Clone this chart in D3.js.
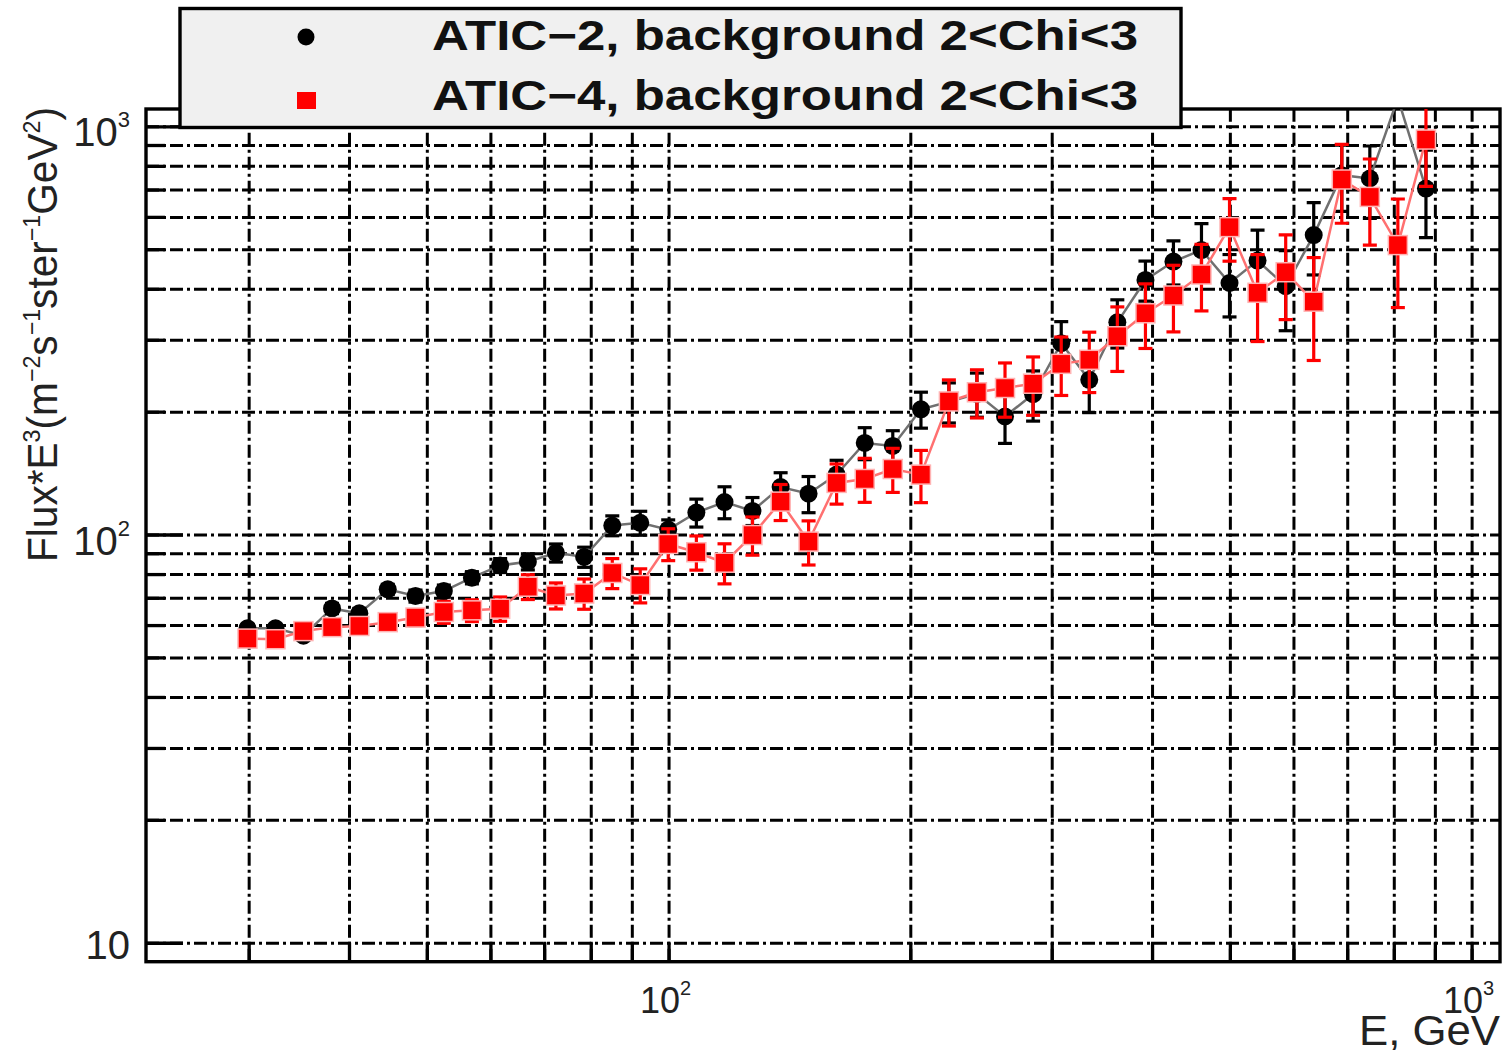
<!DOCTYPE html>
<html>
<head>
<meta charset="utf-8">
<script src="https://cdn.jsdelivr.net/npm/d3@7/dist/d3.min.js"></script>
<style>
  body { margin: 0; background: #fff; }
  text { font-family: "Liberation Sans", Arial, Helvetica, sans-serif; }
</style>
</head>
<body>
<div id="chart"></div>
<script>
// energies of the bins, GeV
var energy = [29.9, 32.4, 35.1, 38.1, 41.2, 44.7, 48.4, 52.5, 56.9, 61.7, 66.8, 72.4, 78.5, 85.1,
  92.2, 99.9, 108.3, 117.4, 127.2, 137.9, 149.4, 161.9, 175.5, 190.2, 206.2, 223.4, 242.1, 262.4,
  284.4, 308.3, 334.1, 362.1, 392.5, 425.3, 460.9, 499.5, 541.3, 586.8, 635.9, 689.2, 746.9, 809.4, 877.3];

// ATIC-2 (black)
var atic2 = [58.9, 58.9, 56.5, 65.9, 64.1, 73.4, 70.7, 72.7, 78.4, 84.0, 85.8, 90.2, 88.1, 105.2,
  106.8, 102.8, 113.2, 120.1, 114.2, 130.7, 125.9, 140.2, 167.6, 164.8, 202.7, 211.4, 221.2, 194.6,
  220.6, 294.2, 239.3, 331.1, 420.3, 466.4, 497.7, 413.2, 469.0, 405.7, 541.4, 759, 745, 1171, 704];
var atic2Err = [1.3, 1.3, 1.3, 1.9, 1.8, 2.1, 2.4, 2.5, 2.7, 3.3, 3.9, 4.6, 5.0, 5.9,
  7.2, 5.8, 8.9, 10.8, 9.0, 11.0, 12.8, 11.8, 15.1, 14.8, 20.5, 23.8, 27.4, 27.4,
  31.0, 38.1, 40.4, 44.7, 47.3, 57.8, 80, 72, 88, 90, 109, 140, 150, 60, 170];

// ATIC-4 (red)
var atic4 = [55.6, 55.4, 58.0, 59.3, 59.7, 61.0, 62.6, 64.6, 65.2, 65.8, 74.5, 70.9, 71.7, 80.5,
  75.2, 94.8, 90.5, 85.3, 99.7, 120.4, 96.1, 133.8, 136.8, 144.7, 140.2, 211.8, 223.1, 228.5,
  234.1, 261.9, 267.9, 306.0, 348.4, 385.1, 433.5, 566.3, 391.0, 439.1, 371.9, 740.8, 671.6, 511.7, 927.9];
var atic4Err = [1.6, 1.6, 2.0, 2.0, 2.4, 2.4, 2.8, 4.0, 4.0, 4.5, 5.2, 5.2, 6.1, 6.8,
  7.2, 8.5, 8.7, 9.6, 10.7, 12.2, 11.9, 15.1, 16.9, 17.9, 20.5, 27.4, 30.1, 34.7,
  38.2, 42.8, 45.2, 55.1, 62.8, 71.5, 80.5, 99, 94, 103, 105, 162, 160, 152, 215];

var legendLabels = ["ATIC\u22122, background 2<Chi<3", "ATIC\u22124, background 2<Chi<3"];

var xGrid = [30, 40, 50, 60, 70, 80, 90, 100, 200, 300, 400, 500, 600, 700, 800, 900, 1000];
var yGrid = [10, 20, 30, 40, 50, 60, 70, 80, 90, 100, 200, 300, 400, 500, 600, 700, 800, 900, 1000];
var xTickLabels = [100, 1000];
var yTickLabels = [10, 100, 1000];

var width = 1505,
    height = 1050;

var frameL = 146, frameR = 1500, frameT = 109, frameB = 961.7;

var x = d3.scaleLog()
    .domain([22.35, 1084.8])
    .range([frameL, frameR]);

var y = d3.scaleLog()
    .domain([8.985, 1102.6])
    .range([frameB, frameT]);

var svg = d3.select("#chart").append("svg")
    .attr("width", width)
    .attr("height", height);

svg.append("defs").append("clipPath")
    .attr("id", "plotclip")
  .append("rect")
    .attr("x", frameL).attr("y", frameT)
    .attr("width", frameR - frameL).attr("height", frameB - frameT);

var dash = "13,4,3,4";

// grid lines
var gx = svg.append("g")
    .attr("transform", "translate(0," + frameB + ")")
    .call(d3.axisBottom(x).tickValues(xGrid).tickSize(-(frameB - frameT)).tickFormat(""));
gx.select(".domain").remove();
gx.selectAll("line").attr("stroke", "#000").attr("stroke-width", 3).attr("stroke-dasharray", dash);

var gy = svg.append("g")
    .attr("transform", "translate(" + frameL + ",0)")
    .call(d3.axisRight(y).tickValues(yGrid).tickSize(frameR - frameL).tickFormat(""));
gy.select(".domain").remove();
gy.selectAll("line").attr("stroke", "#000").attr("stroke-width", 3).attr("stroke-dasharray", dash);

// axis ticks, pointing into the frame
var tx = svg.append("g")
    .attr("transform", "translate(0," + frameB + ")")
    .call(d3.axisTop(x).tickValues(xGrid).tickSize(19).tickFormat(""));
tx.select(".domain").remove();
tx.selectAll("line").attr("stroke", "#000").attr("stroke-width", 3.3);

var ty = svg.append("g")
    .attr("transform", "translate(" + frameL + ",0)")
    .call(d3.axisRight(y).tickValues(yGrid).tickSize(19).tickFormat(""));
ty.select(".domain").remove();
ty.selectAll("line")
    .attr("stroke", "#000").attr("stroke-width", 3.3)
    .attr("x2", function(d) { return yTickLabels.indexOf(d) >= 0 ? 37 : 19; });

// frame
svg.append("rect")
    .attr("x", frameL).attr("y", frameT)
    .attr("width", frameR - frameL).attr("height", frameB - frameT)
    .attr("fill", "none").attr("stroke", "#000").attr("stroke-width", 3.4);

// tick labels
function powLabel(sel, v, supSize, supDy) {
  var e = Math.round(Math.log10(v));
  if (e === 1) {
    sel.text("10");
    return;
  }
  sel.append("tspan").text("10");
  sel.append("tspan").attr("font-size", supSize).attr("dy", supDy).text(e);
}

svg.append("g").selectAll("text")
  .data(xTickLabels)
  .enter()
  .append("text")
    .attr("x", function(d) { return x(d) - 3; })
    .attr("y", 1013)
    .attr("text-anchor", "middle")
    .attr("font-size", 36)
    .attr("fill", "#222")
    .each(function(d) { powLabel(d3.select(this), d, 20, -18); });

svg.append("g").selectAll("text")
  .data(yTickLabels)
  .enter()
  .append("text")
    .attr("x", 130)
    .attr("y", function(d) { return y(d) + (d === 10 ? 16 : 20); })
    .attr("text-anchor", "end")
    .attr("font-size", 40)
    .attr("fill", "#222")
    .each(function(d) { powLabel(d3.select(this), d, 22, -19); });

// axis titles
svg.append("text")
    .attr("x", 1500)
    .attr("y", 1045)
    .attr("text-anchor", "end")
    .attr("font-size", 42)
    .attr("fill", "#222")
    .attr("textLength", 141)
    .attr("lengthAdjust", "spacingAndGlyphs")
    .text("E, GeV");

var yt = svg.append("text")
    .attr("transform", "translate(57,562) rotate(-90)")
    .attr("font-size", 42)
    .attr("fill", "#222")
    .attr("textLength", 455)
    .attr("lengthAdjust", "spacingAndGlyphs");
[["Flux*E", 0], ["3", 1], ["(m", 0], ["\u22122", 1], ["s", 0], ["\u22121", 1],
 ["ster", 0], ["\u22121", 1], ["GeV", 0], ["2", 1], [")", 0]].forEach(function(p, i, arr) {
  var prevSup = i > 0 && arr[i - 1][1];
  var dy = p[1] && !prevSup ? -17 : (!p[1] && prevSup ? 17 : 0);
  yt.append("tspan")
    .attr("font-size", p[1] ? 24 : 42)
    .attr("dy", dy)
    .text(p[0]);
});

// data
var plot = svg.append("g").attr("clip-path", "url(#plotclip)");

function drawSeries(vals, errs, color, lineColor, square) {
  var pts = energy.map(function(e, i) { return { e: e, v: vals[i], err: errs[i] }; });

  var line = d3.line()
    .x(function(d) { return x(d.e); })
    .y(function(d) { return y(d.v); });

  plot.append("path")
    .datum(pts)
    .attr("d", line)
    .attr("fill", "none")
    .attr("stroke", lineColor)
    .attr("stroke-width", 2.5);

  var eb = plot.append("g").selectAll("g")
    .data(pts)
    .enter()
    .append("g")
    .attr("stroke", color)
    .attr("stroke-width", 3.2);

  eb.append("line")
    .attr("x1", function(d) { return x(d.e); })
    .attr("x2", function(d) { return x(d.e); })
    .attr("y1", function(d) { return y(d.v + d.err); })
    .attr("y2", function(d) { return y(d.v - d.err); });
  eb.append("line")
    .attr("x1", function(d) { return x(d.e) - 7; })
    .attr("x2", function(d) { return x(d.e) + 7; })
    .attr("y1", function(d) { return y(d.v + d.err); })
    .attr("y2", function(d) { return y(d.v + d.err); });
  eb.append("line")
    .attr("x1", function(d) { return x(d.e) - 7; })
    .attr("x2", function(d) { return x(d.e) + 7; })
    .attr("y1", function(d) { return y(d.v - d.err); })
    .attr("y2", function(d) { return y(d.v - d.err); });

  if (square) {
    plot.append("g").selectAll("rect")
      .data(pts)
      .enter()
      .append("rect")
        .attr("x", function(d) { return x(d.e) - 9.5; })
        .attr("y", function(d) { return y(d.v) - 9.5; })
        .attr("width", 19)
        .attr("height", 19)
        .attr("fill", color)
        .attr("stroke", "#ffb3b3")
        .attr("stroke-width", 1.5);
  } else {
    plot.append("g").selectAll("circle")
      .data(pts)
      .enter()
      .append("circle")
        .attr("cx", function(d) { return x(d.e); })
        .attr("cy", function(d) { return y(d.v); })
        .attr("r", 9)
        .attr("fill", color);
  }
}

drawSeries(atic2, atic2Err, "#000", "#707070", false);
drawSeries(atic4, atic4Err, "#ff0000", "#ff7070", true);

// legend
var lg = svg.append("g");
lg.append("rect")
    .attr("x", 180).attr("y", 8.5)
    .attr("width", 1001).attr("height", 119)
    .attr("fill", "#f0f0f0")
    .attr("stroke", "#000")
    .attr("stroke-width", 3.4);
lg.append("circle")
    .attr("cx", 306).attr("cy", 37).attr("r", 8.5)
    .attr("fill", "#000");
lg.append("rect")
    .attr("x", 297).attr("y", 92)
    .attr("width", 19).attr("height", 17)
    .attr("fill", "#ff0000");
lg.selectAll("text.lab")
  .data(legendLabels)
  .enter()
  .append("text")
    .attr("class", "lab")
    .attr("x", 432)
    .attr("y", function(d, i) { return 50 + i * 60; })
    .attr("font-size", 42)
    .attr("font-weight", "bold")
    .attr("fill", "#111")
    .attr("textLength", 706)
    .attr("lengthAdjust", "spacingAndGlyphs")
    .text(function(d) { return d; });
</script>
</body>
</html>
